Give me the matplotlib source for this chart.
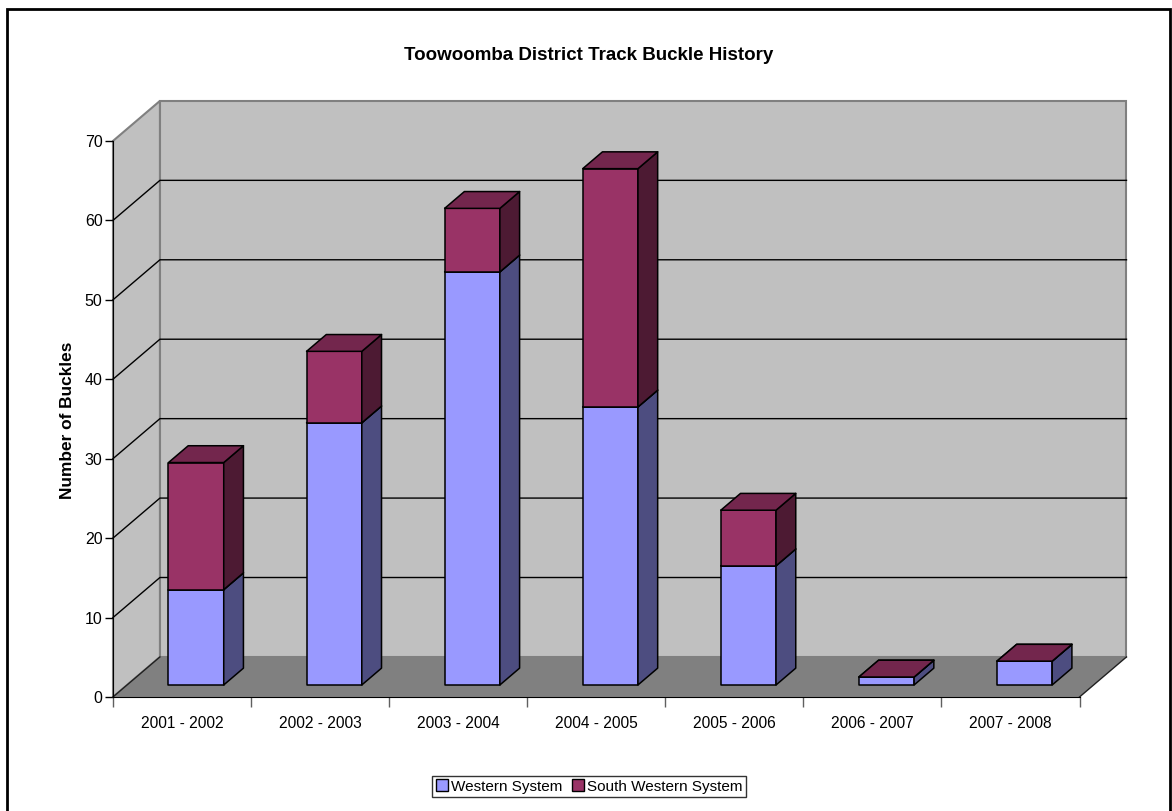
import matplotlib
matplotlib.use("Agg")
import matplotlib.pyplot as plt
from matplotlib.patches import Polygon, Patch, Rectangle

plt.rcParams["font.family"] = ["Liberation Sans", "DejaVu Sans"]

seasons = ["2001 - 2002", "2002 - 2003", "2003 - 2004", "2004 - 2005",
           "2005 - 2006", "2006 - 2007", "2007 - 2008"]
western = [12, 33, 52, 35, 15, 1, 3]
south_western = [16, 9, 8, 30, 7, 0, 0]
series_names = ["Western System", "South Western System"]

y_max = 70
y_step = 10

# colours: front, side, top
western_cols = ("#9999FF", "#4D4D80", "#7A7ACC")
sw_cols = ("#993366", "#4D1A33", "#73264D")

# oblique "3D" depth in data units (category units / value units)
DX = 0.34
DY = 5.04
D0, D1 = 0.30, 0.72
BAR_W = 0.40

fig = plt.figure(figsize=(11.72, 8.11), dpi=100)
ax = fig.add_axes([0.0964, 0.1406, 0.8247, 0.6856])
ax.set_xlim(0, len(seasons))
ax.set_ylim(0, y_max)
ax.patch.set_visible(False)

n = len(seasons)

# ------------------------------------------------------------
# walls and floor
# ------------------------------------------------------------
back = Polygon([(DX, DY), (n + DX, DY), (n + DX, y_max + DY), (DX, y_max + DY)],
               closed=True, facecolor="#C0C0C0", edgecolor="#808080", lw=1.5,
               clip_on=False, zorder=1)
left = Polygon([(0, 0), (DX, DY), (DX, y_max + DY), (0, y_max)],
               closed=True, facecolor="#C0C0C0", edgecolor="#808080", lw=1.5,
               clip_on=False, zorder=1)
floor = Polygon([(0, 0), (n, 0), (n + DX, DY), (DX, DY)],
                closed=True, facecolor="#808080", edgecolor="none",
                clip_on=False, zorder=1)
for p in (back, left, floor):
    ax.add_patch(p)
ax.plot([n, n + DX], [0, DY], color="#202020", lw=1.0, clip_on=False, zorder=2)
ax.plot([0, DX], [0, DY], color="#202020", lw=1.0, clip_on=False, zorder=2)

for v in range(y_step, y_max, y_step):
    ax.plot([0, DX, n + DX], [v, v + DY, v + DY], color="black", lw=1.0,
            clip_on=False, zorder=2)

# ------------------------------------------------------------
# stacked boxes
# ------------------------------------------------------------
def draw_box(i, y0, y1, cols):
    xl = i + 0.5 - BAR_W / 2 + DX * D0
    xr = xl + BAR_W
    yb = y0 + DY * D0
    yt = y1 + DY * D0
    ddx = DX * (D1 - D0)
    ddy = DY * (D1 - D0)
    kw = dict(closed=True, edgecolor="black", lw=1.1, clip_on=False,
              joinstyle="round", zorder=3)
    ax.add_patch(Polygon([(xl, yb), (xr, yb), (xr, yt), (xl, yt)],
                         facecolor=cols[0], **kw))
    ax.add_patch(Polygon([(xr, yb), (xr + ddx, yb + ddy), (xr + ddx, yt + ddy), (xr, yt)],
                         facecolor=cols[1], **kw))
    ax.add_patch(Polygon([(xl, yt), (xr, yt), (xr + ddx, yt + ddy), (xl + ddx, yt + ddy)],
                         facecolor=cols[2], **kw))


for i in range(n):
    draw_box(i, 0, western[i], western_cols)
    draw_box(i, western[i], western[i] + south_western[i], sw_cols)

# ------------------------------------------------------------
# axes
# ------------------------------------------------------------
for s in ("top", "right"):
    ax.spines[s].set_visible(False)
ax.spines["left"].set_color("black")
ax.spines["bottom"].set_color("black")
ax.spines["left"].set_zorder(4)
ax.spines["bottom"].set_zorder(4)

ax.set_yticks(range(0, y_max + 1, y_step))
ax.tick_params(axis="y", direction="out", length=6, width=1, pad=1.5, labelsize=11.5)
ax.set_xticks(range(n + 1))
ax.set_xticklabels([])
ax.tick_params(axis="x", which="major", direction="out", length=7, width=1,
               color="#606060")
ax.set_xticks([i + 0.5 for i in range(n)], minor=True)
ax.set_xticklabels(seasons, minor=True)
ax.tick_params(axis="x", which="minor", length=0, pad=14, labelsize=11.2)

fig.text(589 / 1172, 1 - 55 / 811, "Toowoomba District Track Buckle History",
         ha="center", va="center", fontsize=13.5, fontweight="bold")
fig.text(67 / 1172, 1 - 420 / 811, "Number of Buckles", rotation=90,
         ha="center", va="center", fontsize=12.4, fontweight="bold")

handles = [Patch(facecolor=western_cols[0], edgecolor="black", lw=1.0),
           Patch(facecolor=sw_cols[0], edgecolor="black", lw=1.0)]
leg = fig.legend(handles, series_names, loc="center",
                 bbox_to_anchor=(589 / 1172, 1 - 786.5 / 811), ncol=2,
                 fontsize=11, frameon=True, fancybox=False, shadow=False,
                 handlelength=0.8, handleheight=0.8, handletextpad=0.2,
                 columnspacing=0.6, borderpad=0.25, borderaxespad=0)
leg.get_frame().set_edgecolor("black")
leg.get_frame().set_linewidth(1.0)

fig.patches.append(Rectangle((7 / 1172, -0.02), 1163 / 1172, 1.02 - 9 / 811,
                             transform=fig.transFigure, fill=False,
                             edgecolor="black", lw=2.0, zorder=10))

fig.savefig("out.png", dpi=100)
